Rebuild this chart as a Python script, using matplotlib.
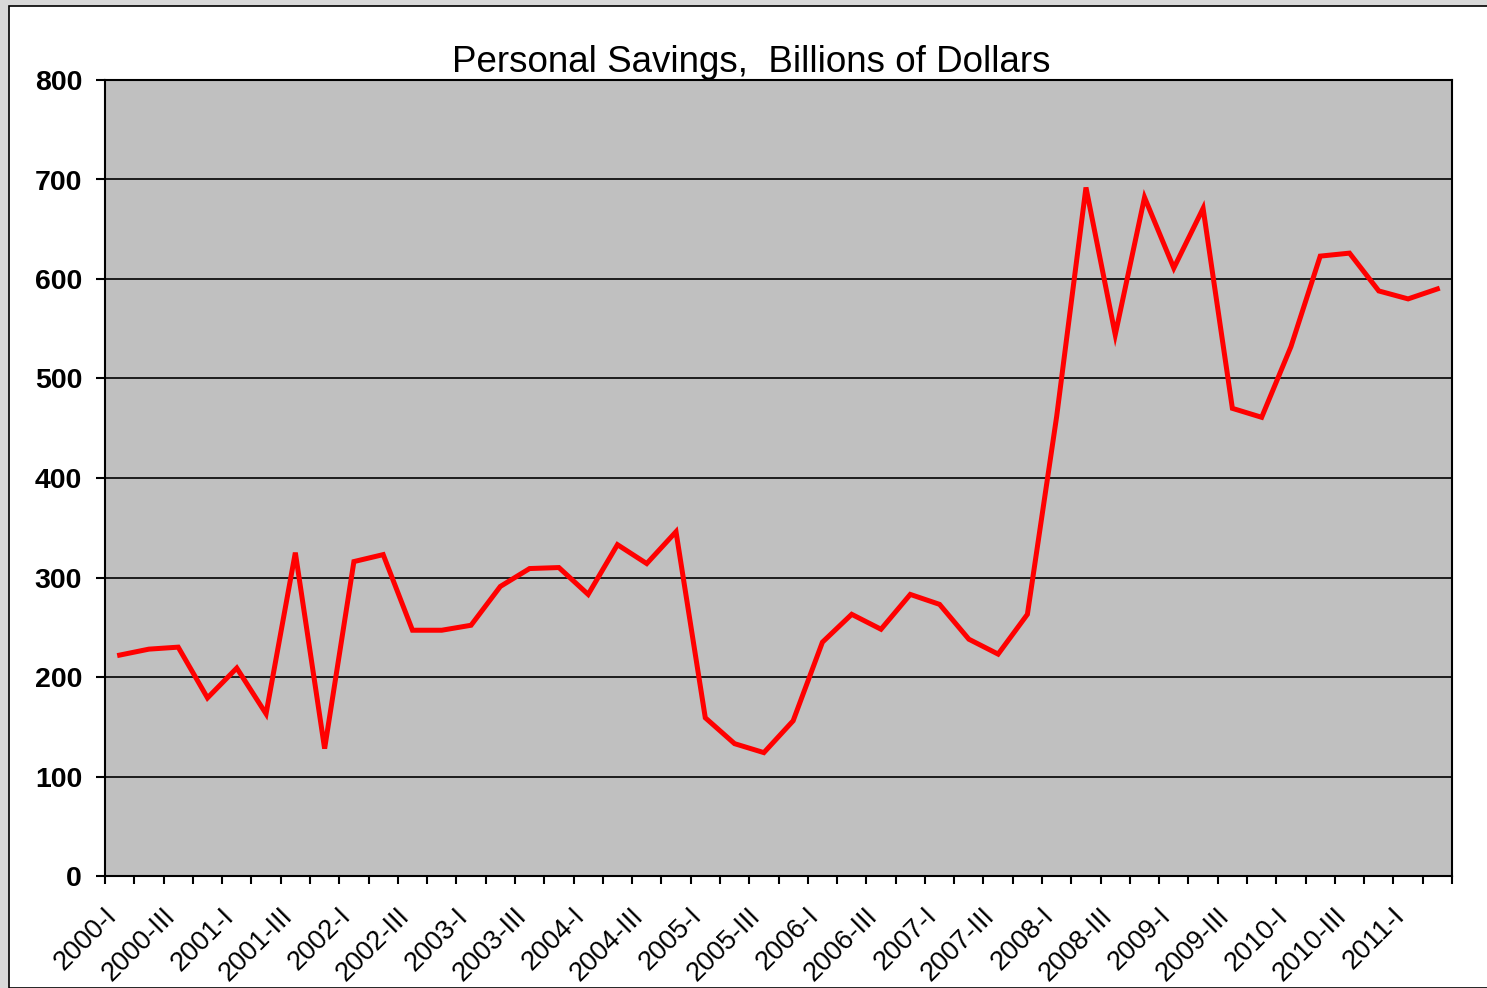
import matplotlib
matplotlib.use("Agg")
import matplotlib.pyplot as plt
from matplotlib.patches import Rectangle
from matplotlib.transforms import ScaledTranslation

# quarterly personal savings, billions of dollars (2000-I .. 2011-II)
years = list(range(2000, 2012))
quarters = ["I", "II", "III", "IV"]
labels = [f"{y}-{q}" for y in years for q in quarters][:46]

savings = [222, 228, 230, 179, 209, 163, 325, 128, 316, 323,
           247, 247, 252, 291, 309, 310, 283, 333, 314, 346,
           159, 133, 124, 156, 235, 263, 248, 283, 273, 238,
           223, 263, 462, 692, 544, 682, 611, 671, 470, 461,
           532, 623, 626, 588, 580, 590]

y_ticks = [0, 100, 200, 300, 400, 500, 600, 700, 800]

plt.rcParams['font.family'] = ['Liberation Sans', 'DejaVu Sans']

fig = plt.figure(figsize=(14.87, 9.88), dpi=100)
fig.patch.set_facecolor('#d9d9d9')
# white chart area with thin black frame
frame = Rectangle((9/1487, 0), 1 - 9/1487 + 0.01, 1 - 6/988, transform=fig.transFigure,
                  facecolor='white', edgecolor='black', linewidth=1.2, zorder=-10)
fig.patches.append(frame)

ax = fig.add_axes([105/1487, 1 - 876/988, (1452-105)/1487, (876-80)/988])
ax.set_facecolor('#c0c0c0')

x = list(range(len(savings)))
ax.plot(x, savings, color='#ff0000', linewidth=3.6, solid_joinstyle='miter', zorder=3)

ax.set_xlim(-0.5, len(savings) - 0.5)
ax.set_ylim(0, 800)
ax.set_yticks(y_ticks)
ax.set_yticklabels([str(v) for v in y_ticks], fontsize=20.5, fontweight='bold')
ax.yaxis.grid(True, color='black', linewidth=1.2)
ax.set_axisbelow(True)

# labels every second quarter, tick marks at category boundaries
ax.set_xticks(x[::2])
ax.set_xticklabels(labels[::2], fontsize=19.5, rotation=45, ha='right', va='center',
                   rotation_mode='anchor')
ax.set_xticks([i - 0.5 for i in range(len(savings) + 1)], minor=True)
ax.tick_params(axis='x', which='major', length=0, pad=26)
ax.tick_params(axis='x', which='minor', length=6, width=1.5, color='black')
ax.tick_params(axis='y', length=6.5, width=1.5, pad=10)
offset = ScaledTranslation(-7/100, 0, fig.dpi_scale_trans)
for lab in ax.get_xticklabels():
    lab.set_transform(lab.get_transform() + offset)

for s in ax.spines.values():
    s.set_color('black')
    s.set_linewidth(1.5)

ax.set_title("Personal Savings,  Billions of Dollars", fontsize=26.5, pad=4, x=0.48)

fig.savefig("out.png", dpi=100, facecolor=fig.get_facecolor())
